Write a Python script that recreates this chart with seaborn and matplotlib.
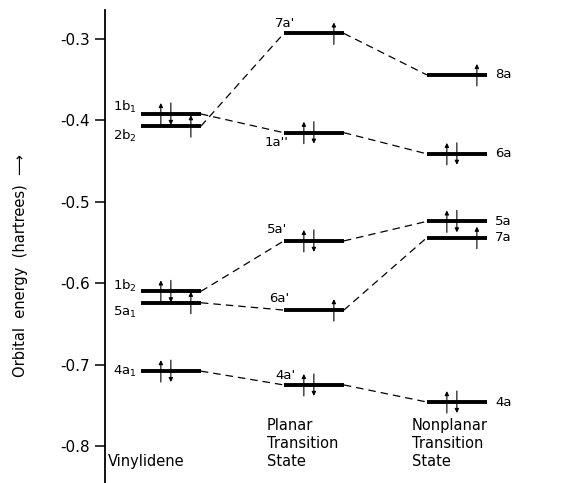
import pandas as pd
import matplotlib
matplotlib.use("Agg")
import matplotlib.pyplot as plt
import matplotlib.transforms as mtransforms
import seaborn as sns

# ================= DATOS =================
STATES = ["Vinylidene", "Planar\nTransition\nState", "Nonplanar\nTransition\nState"]

# orbital energies (hartrees) and occupations, per geometry
VINYL_LABELS = ["1b$_1$", "2b$_2$", "1b$_2$", "5a$_1$", "4a$_1$"]
VINYL_E = [-0.392, -0.407, -0.610, -0.624, -0.708]
VINYL_OCC = [2, 1, 2, 1, 2]

PLANAR_LABELS = ["7a'", "1a''", "5a'", "6a'", "4a'"]
PLANAR_E = [-0.293, -0.415, -0.548, -0.633, -0.725]
PLANAR_OCC = [1, 2, 2, 1, 2]

NONPLANAR_LABELS = ["8a", "6a", "5a", "7a", "4a"]
NONPLANAR_E = [-0.344, -0.441, -0.524, -0.544, -0.746]
NONPLANAR_OCC = [1, 2, 2, 1, 2]

# correlation lines between geometries
LINKS = [("2b$_2$", "7a'"), ("1b$_1$", "1a''"), ("1b$_2$", "5a'"),
         ("5a$_1$", "6a'"), ("4a$_1$", "4a'"),
         ("7a'", "8a"), ("1a''", "6a"), ("5a'", "5a"), ("6a'", "7a"), ("4a'", "4a")]

YTICKS = [-0.3, -0.4, -0.5, -0.6, -0.7, -0.8]

# ================= ESTILO =================
HALF = 0.21          # half width of a level (x units)
PAIR_DX = [-0.07, 0.0]
SINGLE_DX = 0.14
ARROW_H = 0.0135
# label offsets in points (dx, dy) relative to anchor
LABEL_OFF = {
    "1b$_1$": (-2, 5), "2b$_2$": (-2, -7), "1b$_2$": (-2, 4), "5a$_1$": (-2, -7),
    "4a$_1$": (-2, 0),
    "7a'": (1, 7), "1a''": (-5, -7), "5a'": (-5, 8), "6a'": (-3, 8), "4a'": (1, 7),
}

sns.set_style("ticks")
plt.rcParams["font.family"] = ["DejaVu Sans"]
plt.rcParams["axes.unicode_minus"] = False
plt.rcParams["mathtext.default"] = "regular"
plt.rcParams["text.color"] = "black"
plt.rcParams["axes.labelcolor"] = "black"
plt.rcParams["ytick.color"] = "black"
plt.rcParams["axes.edgecolor"] = "black"

rows = []
for i, (labs, es, occ) in enumerate([(VINYL_LABELS, VINYL_E, VINYL_OCC),
                                      (PLANAR_LABELS, PLANAR_E, PLANAR_OCC),
                                      (NONPLANAR_LABELS, NONPLANAR_E, NONPLANAR_OCC)]):
    for lab, e, o in zip(labs, es, occ):
        rows.append({"state": i, "orbital": lab, "E": e, "occ": o})
orb = pd.DataFrame(rows).set_index("orbital")

# segments for the levels
seg = []
for lab, r in orb.iterrows():
    seg.append({"orbital": lab, "x": r.state - HALF, "E": r.E})
    seg.append({"orbital": lab, "x": r.state + HALF, "E": r.E})
seg = pd.DataFrame(seg)

# segments for the dashed correlation lines
con = []
for k, (a, b) in enumerate(LINKS):
    con.append({"link": k, "x": orb.loc[a, "state"] + HALF, "E": orb.loc[a, "E"]})
    con.append({"link": k, "x": orb.loc[b, "state"] - HALF, "E": orb.loc[b, "E"]})
con = pd.DataFrame(con)

fig = plt.figure(figsize=(5.87, 4.83), dpi=100)
ax = fig.add_axes([0.179, 0.0, 0.821, 0.979])

sns.lineplot(data=con, x="x", y="E", units="link", estimator=None, color="black",
             lw=0.9, dashes=False, linestyle=(0, (6, 4)), ax=ax)
sns.lineplot(data=seg, x="x", y="E", units="orbital", estimator=None, color="black",
             lw=2.8, ax=ax, solid_capstyle="butt")

# electrons
for lab, r in orb.iterrows():
    if r.occ == 2:
        xs = [(r.state + PAIR_DX[0], 1), (r.state + PAIR_DX[1], -1)]
    else:
        xs = [(r.state + SINGLE_DX, 1)]
    for x, d in xs:
        ax.annotate("", xy=(x, r.E + d * ARROW_H), xytext=(x, r.E - d * ARROW_H),
                    arrowprops=dict(arrowstyle="-|>", lw=0.8, color="black",
                                    mutation_scale=6, shrinkA=0, shrinkB=0))

# orbital labels
for lab, r in orb.iterrows():
    if r.state == 0:
        dx, dy = LABEL_OFF[lab]
        ax.annotate(lab, (r.state - HALF, r.E), xytext=(dx - 1, dy),
                    textcoords="offset points", ha="right", va="center", fontsize=9.5)
    elif r.state == 1:
        dx, dy = LABEL_OFF[lab]
        ax.annotate(lab, (r.state - HALF, r.E), xytext=(dx, dy),
                    textcoords="offset points", ha="center", va="center", fontsize=9.5)
    else:
        ax.annotate(lab, (r.state + HALF, r.E), xytext=(6, 0),
                    textcoords="offset points", ha="left", va="center", fontsize=9.5)

# geometry names
trans = mtransforms.blended_transform_factory(ax.transData, ax.transAxes)
for i, name in enumerate(STATES):
    x0 = [-0.44, 0.67, 1.685][i]
    ax.text(x0, 0.03, name, transform=trans, ha="left", va="bottom",
            fontsize=10.5, linespacing=1.25)

ax.set_xlim(-0.46, 2.91)
ax.set_ylim(-0.8455, -0.2644)
ax.set_yticks(YTICKS)
ax.set_yticklabels([f"{t:.1f}" for t in YTICKS], fontsize=11)
ax.tick_params(axis="y", direction="out", length=7, width=1.1, pad=4)
ax.set_xticks([])
ax.set_xlabel("")
ax.set_ylabel("Orbital  energy  (hartrees)  \u27f6", fontsize=10.5)
ax.yaxis.set_label_coords(-0.16, 0.46)
sns.despine(ax=ax, bottom=True)
ax.spines["left"].set_linewidth(1.3)

fig.savefig("out.png", dpi=100)
